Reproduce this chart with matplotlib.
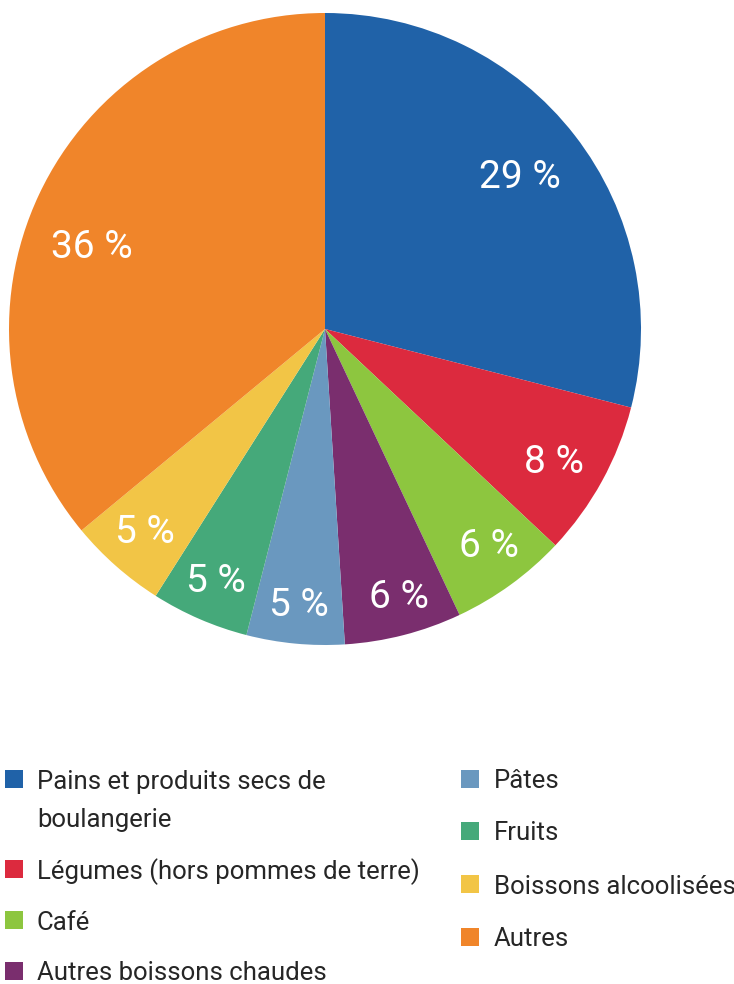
import numpy as np
import matplotlib
matplotlib.use("Agg")
import matplotlib.pyplot as plt
from matplotlib.patches import Rectangle

categories = ["Pains et produits secs de\nboulangerie", "Légumes (hors pommes de terre)", "Café",
              "Autres boissons chaudes", "Pâtes", "Fruits", "Boissons alcoolisées", "Autres"]
values = [29, 8, 6, 6, 5, 5, 5, 36]
labels = ["29 %", "8 %", "6 %", "6 %", "5 %", "5 %", "5 %", "36 %"]
colors = ["#2062A8", "#DC2A3E", "#8DC63F", "#7A2E6E", "#6A98BF", "#45A97A", "#F2C546", "#F0852A"]
label_dist = [0.78, 0.84, 0.86, 0.88, 0.88, 0.87, 0.86, 0.78]
label_dang = [0, -1.5, 1, 1, 0, 0, 0, 6]

W, H = 734, 984
fig = plt.figure(figsize=(W / 100, H / 100), dpi=100)
cx, cy, r = 325, 329, 316
ax = fig.add_axes([(cx - r) / W, 1 - (cy + r) / H, 2 * r / W, 2 * r / H])
wedges, _ = ax.pie(values, colors=colors, startangle=90, counterclock=False,
                   wedgeprops=dict(linewidth=0))
ax.set_xlim(-1, 1)
ax.set_ylim(-1, 1)
ax.set_aspect("equal")
ax.axis("off")

for w, lab, d, da in zip(wedges, labels, label_dist, label_dang):
    ang = np.deg2rad((w.theta1 + w.theta2) / 2 + da)
    ax.text(d * np.cos(ang), d * np.sin(ang), lab, ha="center", va="center",
            color="white", fontsize=28, fontfamily="Roboto", fontweight="normal")

# legend drawn manually
lax = fig.add_axes([0, 0, 1, 1])
lax.set_xlim(0, W)
lax.set_ylim(H, 0)
lax.axis("off")
left_rows = [779, 869, 920, 971]
right_rows = [779, 831, 884, 937]
positions = [(5, 37, y) for y in left_rows] + [(461, 494, y) for y in right_rows]
for (sx, tx, y), cat, col in zip(positions, categories, colors):
    lax.add_patch(Rectangle((sx, y - 9), 18, 18, color=col, lw=0))
    for i, line in enumerate(cat.split("\n")):
        lax.text(tx, y + 38 * i, line, ha="left", va="center_baseline",
                 fontsize=18.5, fontfamily="Roboto", color="#262626")

fig.savefig("out.png", dpi=100)
